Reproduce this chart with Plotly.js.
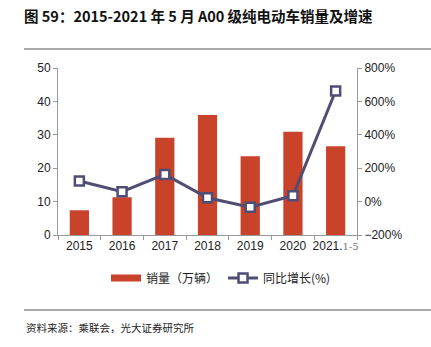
<!DOCTYPE html>
<html><head><meta charset="utf-8">
<script src="https://cdn.plot.ly/plotly-3.0.1.min.js"></script>
<style>html,body{margin:0;padding:0;background:#fff}#c{width:431px;height:347px}</style>
</head><body><div id="c"></div>
<script>
const categories = ["2015","2016","2017","2018","2019","2020","2021"];
const tickLabels = ["2015","2016","2017","2018","2019","2020","2021.<span style='font-family:DejaVu Serif;font-size:10px;color:#777'>1-5</span>"];
const sales = [7.4, 11.3, 29.1, 35.9, 23.6, 30.9, 26.6];
const growth = [123, 59, 163, 23, -34, 35, 662];

const W = 431, H = 347, L = 58, R = 357, T = 68, B = 235;
const px = x => (x - L) / (R - L);
const py = y => (B - y) / (B - T);
const axisCol = '#999';
const barCol = '#C8432A', lineCol = '#4F4D74';
const tickFont = {family: 'Liberation Sans, Arial, sans-serif', size: 12, color: '#222'};

const data = [
  {type: 'bar', x: categories, y: sales, name: '销量（万辆）', marker: {color: barCol}, width: 0.45, yaxis: 'y', showlegend: false},
  {type: 'scatter', mode: 'lines', x: [null], y: [null], name: '销量（万辆）', line: {color: barCol, width: 7}, yaxis: 'y', hoverinfo: 'skip'},
  {type: 'scatter', mode: 'lines+markers', x: categories, y: growth, name: '同比增长(%)', yaxis: 'y2',
   line: {color: lineCol, width: 3}, marker: {symbol: 'square', size: 9, color: '#fff', line: {color: lineCol, width: 2.5}}}
];

const layout = {
  width: W, height: H,
  margin: {l: L, r: W - R, t: T, b: H - B},
  paper_bgcolor: '#fff', plot_bgcolor: '#fff',
  showlegend: true,
  title: {text: '<b>图 59：2015-2021 年 5 月 A00 级纯电动车销量及增速</b>',
    font: {family: 'Noto Sans CJK SC', size: 14.5, color: '#111'},
    xref: 'container', yref: 'container', x: 24 / W, xanchor: 'left', y: 1 - 17 / H, yanchor: 'middle'},
  xaxis: {type: 'category', tickvals: categories, ticktext: tickLabels, tickfont: tickFont, tickangle: 0,
    showline: true, linecolor: axisCol, linewidth: 1, ticks: 'outside', tickson: 'boundaries', ticklen: 4, tickcolor: axisCol,
    showgrid: false, zeroline: false, range: [-0.5, 6.5]},
  yaxis: {range: [0, 50], dtick: 10, tickfont: tickFont, showline: true, linecolor: axisCol, ticks: 'outside', ticklen: 4,
    tickcolor: axisCol, showgrid: false, zeroline: false},
  yaxis2: {range: [-200, 800], dtick: 200, overlaying: 'y', side: 'right', ticksuffix: '%', tickfont: tickFont,
    showline: true, linecolor: axisCol, ticks: 'outside', ticklen: 4, tickcolor: axisCol, showgrid: false, zeroline: false},
  legend: {orientation: 'h', x: px(221), xanchor: 'center', y: py(278), yanchor: 'middle',
    font: {family: 'Noto Sans CJK SC', size: 12, color: '#222'}, itemwidth: 30, tracegroupgap: 0},
  shapes: [
    {type: 'line', xref: 'paper', yref: 'paper', x0: px(24), x1: px(431), y0: py(49), y1: py(49), line: {color: '#555', width: 1}},
    {type: 'line', xref: 'paper', yref: 'paper', x0: px(24), x1: px(431), y0: py(310), y1: py(310), line: {color: '#555', width: 1}}
  ],
  annotations: [
    {text: '资料来源：乘联会，光大证券研究所', xref: 'paper', yref: 'paper', x: px(24), y: py(327), xanchor: 'left', yanchor: 'middle',
     showarrow: false, font: {family: 'Noto Sans CJK SC', size: 10.5, color: '#222'}}
  ]
};
Plotly.newPlot('c', data, layout, {displayModeBar: false, staticPlot: true});
</script></body></html>
